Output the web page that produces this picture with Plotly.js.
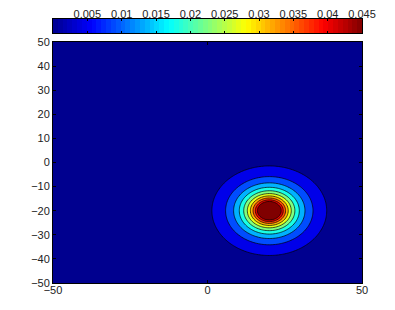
<!DOCTYPE html>
<html>
<head>
<meta charset="utf-8">
<script src="https://cdn.plot.ly/plotly-3.0.1.min.js"></script>
<style>
  html, body { margin: 0; padding: 0; background: #fff; }
  #chart { width: 395px; height: 310px; }
</style>
</head>
<body>
<div id="chart"></div>
<script>
// ---- data ----
// field: single peak centred at (20, -20), falling off with distance
var peakCenterX = 20;
var peakCenterY = -20;
var peakValue = 0.082;       // value at the centre (above the top level)
var decayLength = 6.4;       // e-folding distance of the peak
var gridX = [];              // grid coordinates, -50 .. 50
var gridY = [];
for (var g = -50; g <= 50.0001; g += 0.5) { gridX.push(g); gridY.push(g); }

// contour levels: 0.0045, 0.009, ... 0.045
var levelStart = 0.0045;
var levelEnd = 0.045;
var levelStep = 0.0045;

// axis ticks
var xTickVals = [-50, 0, 50];
var yTickVals = [-50, -40, -30, -20, -10, 0, 10, 20, 30, 40, 50];
var cbTickVals = [0.005, 0.01, 0.015, 0.02, 0.025, 0.03, 0.035, 0.04, 0.045];
var cbTickText = ['0.005', '0.01', '0.015', '0.02', '0.025', '0.03', '0.035', '0.04', '0.045'];
var cbMin = 0, cbMax = 0.045;

// MATLAB-like jet colormap
var jet = [
  [0, 'rgb(0,0,143)'],
  [0.125, 'rgb(0,0,255)'],
  [0.375, 'rgb(0,255,255)'],
  [0.625, 'rgb(255,255,0)'],
  [0.875, 'rgb(255,0,0)'],
  [1, 'rgb(128,0,0)']
];

// ---- build the field ----
var zField = gridY.map(function (yy) {
  return gridX.map(function (xx) {
    var d = Math.sqrt((xx - peakCenterX) * (xx - peakCenterX) + (yy - peakCenterY) * (yy - peakCenterY));
    return peakValue * Math.exp(-d / decayLength);
  });
});

// colorbar strip (64 colours as in MATLAB)
var nCb = 64;
var cbX = [], cbZ = [];
for (var i = 0; i < nCb; i++) {
  var v = cbMin + (i + 0.5) * (cbMax - cbMin) / nCb;
  cbX.push(v); cbZ.push(v);
}

var font = { family: 'Liberation Sans, Arial, Helvetica, sans-serif', size: 11, color: '#222' };

var traces = [
  {
    type: 'contour',
    x: gridX, y: gridY, z: zField,
    xaxis: 'x', yaxis: 'y',
    colorscale: jet,
    zauto: false,
    zmin: levelStart - levelStep / 2,
    zmax: levelEnd + levelStep / 2,
    autocontour: false,
    contours: { start: levelStart, end: levelEnd, size: levelStep, coloring: 'fill' },
    line: { color: '#000', width: 0.7, smoothing: 1 },
    showscale: false,
    hoverinfo: 'skip'
  },
  {
    type: 'heatmap',
    x: cbX, y: [0], z: [cbZ],
    xaxis: 'x2', yaxis: 'y2',
    colorscale: jet, zmin: cbMin, zmax: cbMax,
    showscale: false, hoverinfo: 'skip'
  }
];

var layout = {
  width: 395, height: 310,
  margin: { l: 53, r: 33, t: 19, b: 27, pad: 0 },
  paper_bgcolor: '#fff', plot_bgcolor: '#fff',
  font: font,
  showlegend: false,
  xaxis: {
    domain: [0, 1], range: [-50, 50], anchor: 'y',
    tickvals: xTickVals, ticks: 'inside', ticklen: 3, tickcolor: '#000',
    ticklabelstandoff: -3,
    showline: true, linecolor: '#000', linewidth: 1, mirror: 'ticks',
    showgrid: false, zeroline: false, tickfont: font
  },
  yaxis: {
    domain: [0, 241 / 264], range: [-50, 50], anchor: 'x',
    tickvals: yTickVals, ticks: 'inside', ticklen: 3, tickcolor: '#000',
    showline: true, linecolor: '#000', linewidth: 1, mirror: 'ticks',
    showgrid: false, zeroline: false, tickfont: font
  },
  xaxis2: {
    domain: [0, 1], range: [cbMin, cbMax], anchor: 'y2', side: 'top',
    tickvals: cbTickVals, ticktext: cbTickText,
    ticks: 'inside', ticklen: 2, tickcolor: '#000',
    ticklabelstandoff: -4,
    showline: true, linecolor: '#000', linewidth: 1, mirror: 'ticks',
    showgrid: false, zeroline: false, tickfont: font
  },
  yaxis2: {
    domain: [1 - 14 / 264, 1], range: [-0.5, 0.5], anchor: 'x2',
    showticklabels: false, ticks: '',
    showline: true, linecolor: '#000', linewidth: 1, mirror: true,
    showgrid: false, zeroline: false
  }
};

Plotly.newPlot('chart', traces, layout, { displayModeBar: false, staticPlot: true });
</script>
</body>
</html>
